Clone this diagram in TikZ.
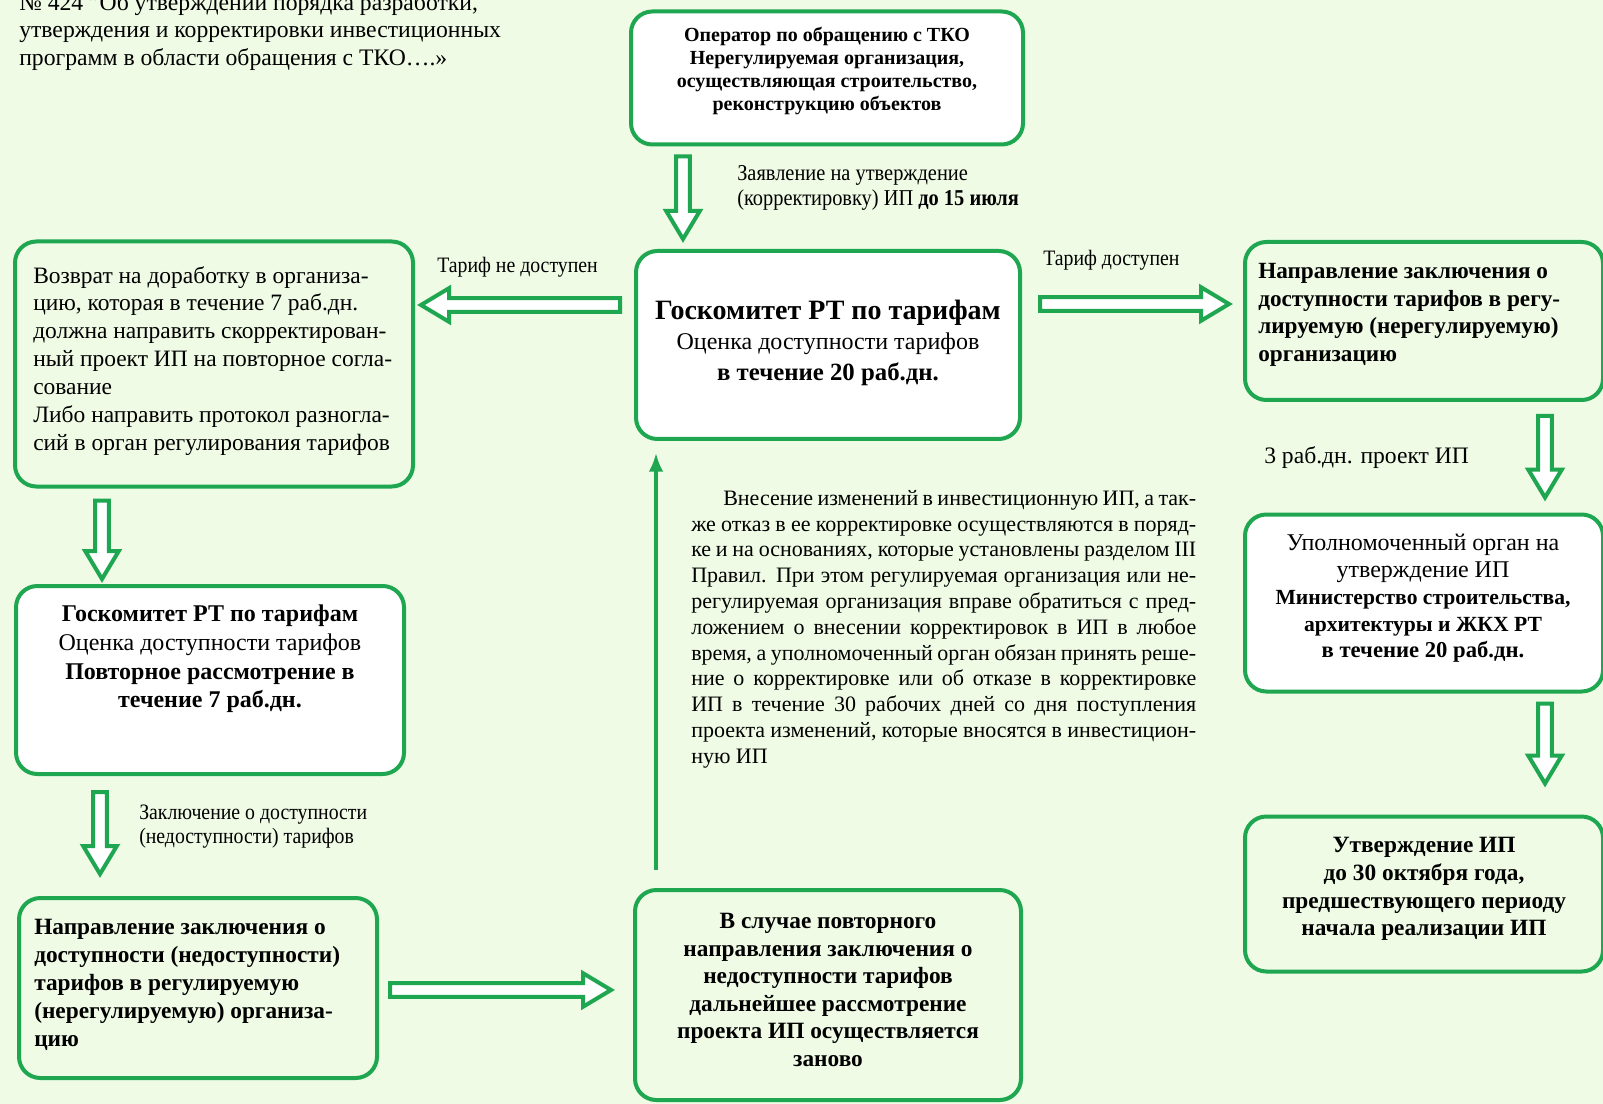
\documentclass[tikz,border=0pt]{standalone}
\usepackage{fontspec}
\setmainfont{Liberation Serif}
\newfontfamily\condfont{Liberation Serif}[FakeStretch=0.9]
\usetikzlibrary{calc,arrows.meta}
\definecolor{tkgreen}{RGB}{30,166,80}
\definecolor{paleg}{RGB}{239,251,229}
\newcommand\setfs[2]{\fontsize{#1bp}{#2bp}\selectfont}
\newcommand\jline[2]{\makebox[#1bp][s]{#2}}

\begin{document}
\begin{tikzpicture}[x=0.75bp,y=-0.75bp,
    box/.style={draw=tkgreen,line width=3bp,rounded corners=16bp,fill=white,inner sep=0pt},
    boxg/.style={box,fill=paleg},
    txt/.style={inner sep=0pt,text=black},
    fat/.style={draw=tkgreen,line width=3bp,fill=white,line join=miter,
      to path={let \p1=(\tikztostart), \p2=(\tikztotarget),
        \n1={atan2(\y2-\y1,\x2-\x1)}, \n2={veclen(\x2-\x1,\y2-\y1)} in
        [shift={(\p1)},rotate=\n1]
        (0pt,-5.2bp) -- ({\n2*1pt-21bp},-5.2bp) -- ({\n2*1pt-21bp},-12.6bp)
        -- ({\n2*1pt},0pt) -- ({\n2*1pt-21bp},12.6bp) -- ({\n2*1pt-21bp},5.2bp)
        -- (0pt,5.2bp) -- cycle}},
    thinarr/.style={draw=tkgreen,line width=2.6bp,-{Latex[length=14bp,width=11bp]}}]

  \fill[paleg] (0,0) rectangle (1603,1104);
  \useasboundingbox (0,0) rectangle (1603,1104);

  % boxes
  \node[box,minimum width=392*0.75bp,minimum height=133*0.75bp] (op) at (827,78) {};
  \node[box,minimum width=384*0.75bp,minimum height=188*0.75bp] (gk) at (828,345) {};
  \node[boxg,minimum width=398*0.75bp,minimum height=245*0.75bp] (ret) at (214,364) {};
  \node[boxg,minimum width=358*0.75bp,minimum height=158*0.75bp] (ok) at (1424,321) {};
  \node[box,minimum width=388*0.75bp,minimum height=188*0.75bp] (gk2) at (210,680) {};
  \node[boxg,minimum width=358*0.75bp,minimum height=180*0.75bp] (zakl) at (198,988) {};
  \node[boxg,minimum width=386*0.75bp,minimum height=210*0.75bp] (renew) at (828,995) {};
  \node[box,minimum width=358*0.75bp,minimum height=177*0.75bp] (upol) at (1424,603) {};
  \node[boxg,minimum width=358*0.75bp,minimum height=155*0.75bp] (utv) at (1424,894) {};

  % texts
  \node[txt,anchor=north west,align=left,font=\setfs{17.75}{20.6}] (law) at (19,-7)
    {№ 424 "Об утверждении порядка разработки,\\
     утверждения и корректировки инвестиционных\\
     программ в области обращения с ТКО….»};
  \node[txt,anchor=north,align=center,font=\bfseries\setfs{15}{17.3}] (opT) at (827,27)
    {Оператор по обращению с ТКО\\ Нерегулируемая организация,\\
     осуществляющая строительство,\\ реконструкцию объектов};
  \node[txt,anchor=north,align=center,font=\setfs{18}{22.7}] (gkT) at (828,300)
    {{\bfseries\setfs{21}{22.7}Госкомитет РТ по тарифам}\\ Оценка доступности тарифов\\
     {\bfseries\setfs{18.6}{22.7}в течение 20 раб.дн.}};
  \node[txt,anchor=north west,align=left,font=\setfs{17.6}{20.9}] (retT) at (33,266)
    {Возврат на доработку в организа-\\ цию, которая в течение 7 раб.дн.\\
     должна направить скорректирован-\\ ный проект ИП на повторное согла-\\
     сование\\ Либо направить протокол разногла-\\ сий в орган регулирования тарифов};
  \node[txt,anchor=north west,align=left,font=\bfseries\setfs{17.4}{20.7}] (okT) at (1258,263)
    {Направление заключения о\\ доступности тарифов в регу-\\
     лируемую (нерегулируемую)\\ организацию};
  \node[txt,anchor=north,align=center,font=\setfs{18}{21.5}] (gk2T) at (210,605)
    {\textbf{Госкомитет РТ по тарифам}\\ Оценка доступности тарифов\\
     \textbf{Повторное рассмотрение в}\\ \textbf{течение 7 раб.дн.}};
  \node[txt,anchor=north west,align=left,font=\bfseries\setfs{17.5}{21}] (zaklT) at (34,919)
    {Направление заключения о\\ доступности (недоступности)\\
     тарифов в регулируемую\\ (нерегулируемую) организа-\\ цию};
  \node[txt,anchor=north,align=center,font=\bfseries\setfs{17.5}{20.7}] (renewT) at (828,913)
    {В случае повторного\\ направления заключения о\\ недоступности тарифов\\
     дальнейшее рассмотрение\\ проекта ИП осуществляется\\ заново};
  \node[txt,anchor=north,align=center,font=\setfs{18}{20.1}] (upolT) at (1423,534)
    {Уполномоченный орган на\\ утверждение ИП\\
     {\bfseries\setfs{16.2}{20.1}Министерство строительства,}\\
     {\bfseries\setfs{16.2}{20.1}архитектуры и ЖКХ РТ}\\
     {\bfseries\setfs{17}{20.1}в течение 20 раб.дн.}};
  \node[txt,anchor=north,align=center,font=\bfseries\setfs{17.5}{20.8}] (utvT) at (1424,837)
    {Утверждение ИП\\ до 30 октября года,\\ предшествующего периоду\\ начала реализации ИП};
  \node[txt,anchor=north west,align=left,font=\setfs{16.5}{19.35}] (rule) at (691,490)
    {\hspace*{24bp}\jline{354.75}{Внесение изменений в инвестиционную ИП, а так-}\\
     \jline{378.75}{же отказ в ее корректировке осуществляются в поряд-}\\
     \jline{378.75}{ке и на основаниях, которые установлены разделом III}\\
     \jline{378.75}{Правил. При этом регулируемая организация или не-}\\
     \jline{378.75}{регулируемая организация вправе обратиться с пред-}\\
     \jline{378.75}{ложением о внесении корректировок в ИП в любое}\\
     \jline{378.75}{время, а уполномоченный орган обязан принять реше-}\\
     \jline{378.75}{ние о корректировке или об отказе в корректировке}\\
     \jline{378.75}{ИП в течение 30 рабочих дней со дня поступления}\\
     \jline{378.75}{проекта изменений, которые вносятся в инвестицион-}\\
     ную ИП};

  % labels of the arrows
  \node[txt,anchor=north west,align=left,font=\condfont\setfs{17}{18.9}] (zayav) at (737,165)
    {Заявление на утверждение\\ (корректировку) ИП \textbf{до 15 июля}};
  \node[txt,anchor=north west,font=\condfont\setfs{16.5}{18}] (notok) at (437,257) {Тариф не доступен};
  \node[txt,anchor=north west,font=\condfont\setfs{16.5}{18}] (isok) at (1043,250) {Тариф доступен};
  \node[txt,anchor=north west,font=\setfs{17.7}{21}] (days3) at (1264,446) {3 раб.дн. проект ИП};
  \node[txt,anchor=north west,align=left,font=\condfont\setfs{16.5}{17.5}] (concl) at (139,805)
    {Заключение о доступности\\ (недоступности) тарифов};

  % hollow arrows
  \coordinate (a1s) at ($(op.south-|683,0)+(0,10)$);
  \coordinate (a1e) at ($(gk.north-|683,0)-(0,10)$);
  \coordinate (a2s) at ($(gk.west|-0,305)-(14,0)$);
  \coordinate (a2e) at ($(ret.east|-0,305)+(6,0)$);
  \coordinate (a3s) at ($(gk.east|-0,304)+(18,0)$);
  \coordinate (a3e) at ($(ok.west|-0,304)-(14,0)$);
  \coordinate (a4s) at ($(ret.south-|102,0)+(0,12)$);
  \coordinate (a4e) at ($(gk2.north-|102,0)-(0,5)$);
  \coordinate (a5s) at ($(gk2.south-|100,0)+(0,16)$);
  \coordinate (a5e) at ($(zakl.north-|100,0)-(0,22)$);
  \coordinate (a6s) at ($(zakl.east|-0,990)+(11,0)$);
  \coordinate (a6e) at ($(renew.west|-0,990)-(22,0)$);
  \coordinate (a7s) at ($(ok.south-|1545,0)+(0,14)$);
  \coordinate (a7e) at ($(upol.north-|1545,0)-(0,15)$);
  \coordinate (a8s) at ($(upol.south-|1545,0)+(0,10)$);
  \coordinate (a8e) at ($(utv.north-|1545,0)-(0,31)$);
  \foreach \a in {1,...,8}
    \draw[fat] (a\a s) to (a\a e);

  % thin return arrow
  \draw[thinarr] ($(renew.north-|656,0)-(0,18)$) -- ($(gk.south-|656,0)+(0,12)$);
\end{tikzpicture}
\end{document}
